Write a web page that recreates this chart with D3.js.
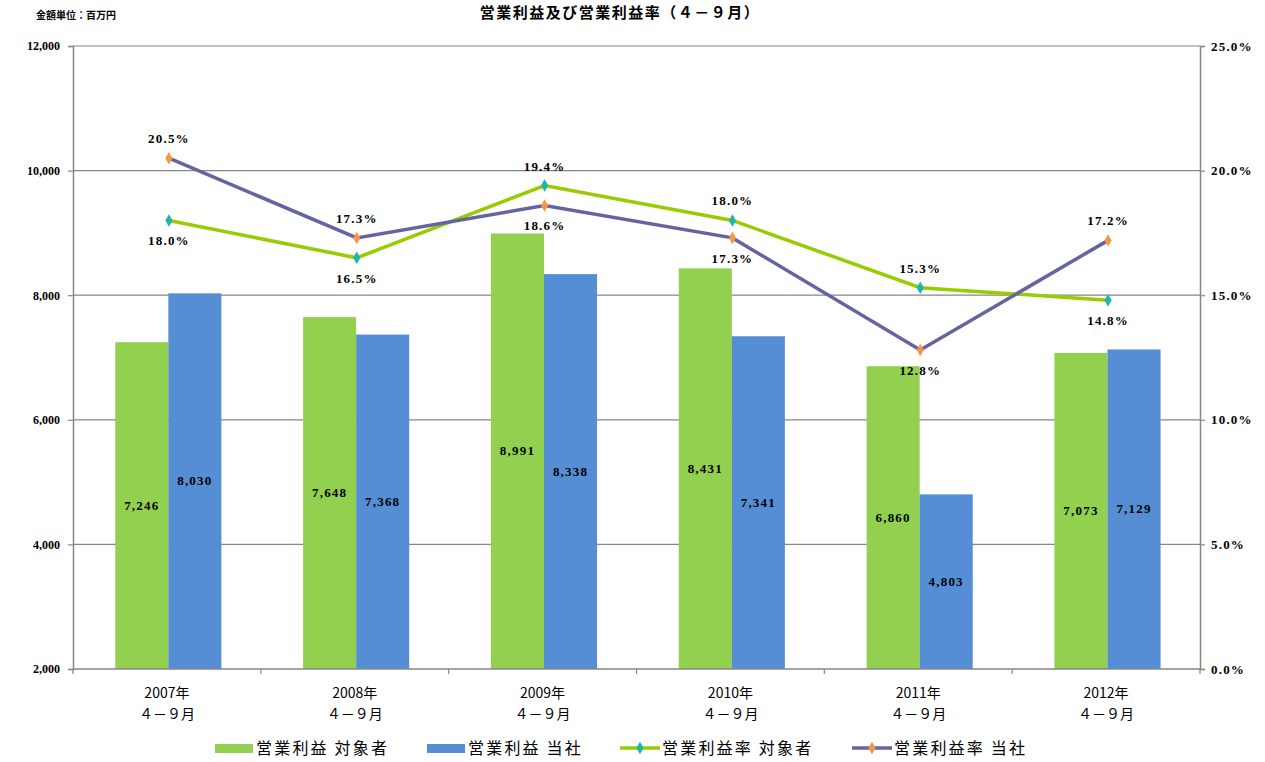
<!DOCTYPE html>
<html>
<head>
<meta charset="utf-8">
<script src="https://cdn.jsdelivr.net/npm/d3@7"></script>
<style>
  html, body { margin: 0; padding: 0; background: #fff; }
  svg { display: block; }
  .num { font-family: "Liberation Serif", "DejaVu Serif", serif; fill: #000; }
  .jp { font-family: "Noto Sans CJK JP", sans-serif; fill: #000; }
</style>
</head>
<body>
<svg id="chart" width="1265" height="762"></svg>
<script>
// Fiscal periods (April–September of each year)
const years = ["2007年", "2008年", "2009年", "2010年", "2011年", "2012年"];
const periodLabel = "４－９月";

// Operating profit, million yen
const profitTarget = [7246, 7648, 8991, 8431, 6860, 7073];
const profitOwn = [8030, 7368, 8338, 7341, 4803, 7129];

// Operating margin, %
const marginTarget = [18.0, 16.5, 19.4, 18.0, 15.3, 14.8];
const marginOwn = [20.5, 17.3, 18.6, 17.3, 12.8, 17.2];

// Label placement of the margin values (above / below the point)
const marginTargetPos = ["below", "below", "above", "above", "above", "below"];
const marginOwnPos = ["above", "above", "below", "below", "below", "above"];

const leftTicks = [2000, 4000, 6000, 8000, 10000, 12000];
const rightTicks = [0, 5, 10, 15, 20, 25];

const seriesNames = ["営業利益 対象者", "営業利益 当社", "営業利益率 対象者", "営業利益率 当社"];

const colors = {
  barTarget: "#92d050",
  barOwn: "#558ed5",
  lineTarget: "#99cc00",
  markTarget: "#1fb5ad",
  lineOwn: "#6464a0",
  markOwn: "#f79646",
  axis: "#868686"
};

const svg = d3.select("#chart");
const plot = { left: 73, right: 1200, top: 46, bottom: 669 };

const x = d3.scaleBand().domain(years).range([plot.left, plot.right]).padding(0);
const bw = x.bandwidth();
const xSub = d3.scaleBand().domain([0, 1]).range([bw * 0.225, bw * 0.79]).padding(0);
const yL = d3.scaleLinear().domain([2000, 12000]).range([plot.bottom, plot.top]);
const yR = d3.scaleLinear().domain([0, 25]).range([plot.bottom, plot.top]);

const fmtNum = d3.format(",");
const fmtPct = d => d.toFixed(1) + "%";

// Title and unit note
svg.append("text").attr("class", "jp")
  .attr("x", 620).attr("y", 18).attr("text-anchor", "middle")
  .attr("font-size", 15).attr("font-weight", "bold").attr("letter-spacing", 1.5)
  .text("営業利益及び営業利益率（４－９月）");
svg.append("text").attr("class", "jp")
  .attr("x", 36).attr("y", 19)
  .attr("font-size", 10).attr("font-weight", "bold")
  .text("金額単位：百万円");

// Horizontal grid lines
svg.append("g").selectAll("line").data(leftTicks.slice(1)).join("line")
  .attr("x1", plot.left).attr("x2", plot.right)
  .attr("y1", d => yL(d)).attr("y2", d => yL(d))
  .attr("stroke", colors.axis).attr("stroke-width", 1.2);

// Left axis
const axL = svg.append("g").attr("transform", `translate(${plot.left},0)`)
  .call(d3.axisLeft(yL).tickValues(leftTicks).tickFormat(fmtNum).tickSize(5).tickPadding(8));
axL.select(".domain").attr("stroke", colors.axis).attr("stroke-width", 1.5);
axL.selectAll(".tick line").attr("stroke", colors.axis).attr("stroke-width", 1.2);
axL.selectAll("text").attr("class", "num").attr("font-size", 12).attr("font-weight", "bold");

// Right axis
const axR = svg.append("g").attr("transform", `translate(${plot.right},0)`)
  .call(d3.axisRight(yR).tickValues(rightTicks).tickFormat(d => d.toFixed(1) + "%").tickSize(5).tickPadding(6));
axR.select(".domain").attr("stroke", colors.axis).attr("stroke-width", 1.5);
axR.selectAll(".tick line").attr("stroke", colors.axis).attr("stroke-width", 1.2);
axR.selectAll("text").attr("class", "num").attr("font-size", 13).attr("font-weight", "bold")
  .attr("letter-spacing", 1.2);

// Bars
const barData = years.map((yr, i) => [
  { yr, k: 0, v: profitTarget[i], c: colors.barTarget },
  { yr, k: 1, v: profitOwn[i], c: colors.barOwn }
]).flat();

const bars = svg.append("g");
bars.selectAll("rect").data(barData).join("rect")
  .attr("x", d => x(d.yr) + xSub(d.k))
  .attr("width", xSub.bandwidth())
  .attr("y", d => yL(d.v))
  .attr("height", d => yL(2000) - yL(d.v))
  .attr("fill", d => d.c);

bars.selectAll("text").data(barData).join("text")
  .attr("class", "num")
  .attr("x", d => x(d.yr) + xSub(d.k) + xSub.bandwidth() / 2)
  .attr("y", d => (yL(d.v) + yL(2000)) / 2 + 4)
  .attr("text-anchor", "middle")
  .attr("font-size", 13).attr("font-weight", "bold").attr("letter-spacing", 1.2)
  .text(d => fmtNum(d.v));

// Bottom axis
const axB = svg.append("g").attr("transform", `translate(0,${plot.bottom})`);
axB.append("line").attr("x1", plot.left).attr("x2", plot.right)
  .attr("stroke", colors.axis).attr("stroke-width", 1.5);
const bounds = years.map(yr => x(yr)).concat([plot.right]);
axB.selectAll("line.tk").data(bounds).join("line").attr("class", "tk")
  .attr("x1", d => d).attr("x2", d => d).attr("y1", 0).attr("y2", 5)
  .attr("stroke", colors.axis).attr("stroke-width", 1.2);
const catLabels = axB.selectAll("text").data(years).join("text")
  .attr("class", "jp").attr("text-anchor", "middle").attr("font-size", 14);
catLabels.append("tspan").attr("x", d => x(d) + bw / 2).attr("y", 29).text(d => d);
catLabels.append("tspan").attr("x", d => x(d) + bw / 2).attr("y", 50).text(periodLabel);

// Margin lines
const cx = (i) => x(years[i]) + bw / 2 + 2;
const line = d3.line().x((d, i) => cx(i)).y(d => yR(d));

function drawSeries(values, pos, lineColor, markColor) {
  const g = svg.append("g");
  g.append("path").datum(values).attr("d", line)
    .attr("fill", "none").attr("stroke", lineColor).attr("stroke-width", 3.5);
  g.selectAll("path.mk").data(values).join("path").attr("class", "mk")
    .attr("transform", (d, i) => `translate(${cx(i)},${yR(d)})`)
    .attr("d", d3.symbol(d3.symbolDiamond, 45))
    .attr("fill", markColor);
  g.selectAll("text").data(values).join("text").attr("class", "num")
    .attr("x", (d, i) => cx(i))
    .attr("y", (d, i) => pos[i] === "above" ? yR(d) - 15 : yR(d) + 25)
    .attr("text-anchor", "middle")
    .attr("font-size", 13).attr("font-weight", "bold").attr("letter-spacing", 1.2)
    .text(fmtPct);
}
drawSeries(marginTarget, marginTargetPos, colors.lineTarget, colors.markTarget);
drawSeries(marginOwn, marginOwnPos, colors.lineOwn, colors.markOwn);

// Legend
const legend = svg.append("g").attr("transform", "translate(0,748)");
const legendX = [215, 427, 620, 852];
legendX.forEach((lx, i) => {
  const g = legend.append("g").attr("transform", `translate(${lx},0)`);
  if (i < 2) {
    g.append("rect").attr("x", 0).attr("y", -4).attr("width", 38).attr("height", 9)
      .attr("fill", i === 0 ? colors.barTarget : colors.barOwn);
  } else {
    const lc = i === 2 ? colors.lineTarget : colors.lineOwn;
    const mc = i === 2 ? colors.markTarget : colors.markOwn;
    g.append("line").attr("x1", 0).attr("x2", 40).attr("y1", 0).attr("y2", 0)
      .attr("stroke", lc).attr("stroke-width", 3.5);
    g.append("path").attr("transform", "translate(20,0)")
      .attr("d", d3.symbol(d3.symbolDiamond, 45)).attr("fill", mc);
  }
  g.append("text").attr("class", "jp")
    .attr("x", i < 2 ? 41 : 42).attr("y", 6)
    .attr("font-size", 16).attr("letter-spacing", 2.2)
    .text(seriesNames[i]);
});
</script>
</body>
</html>
